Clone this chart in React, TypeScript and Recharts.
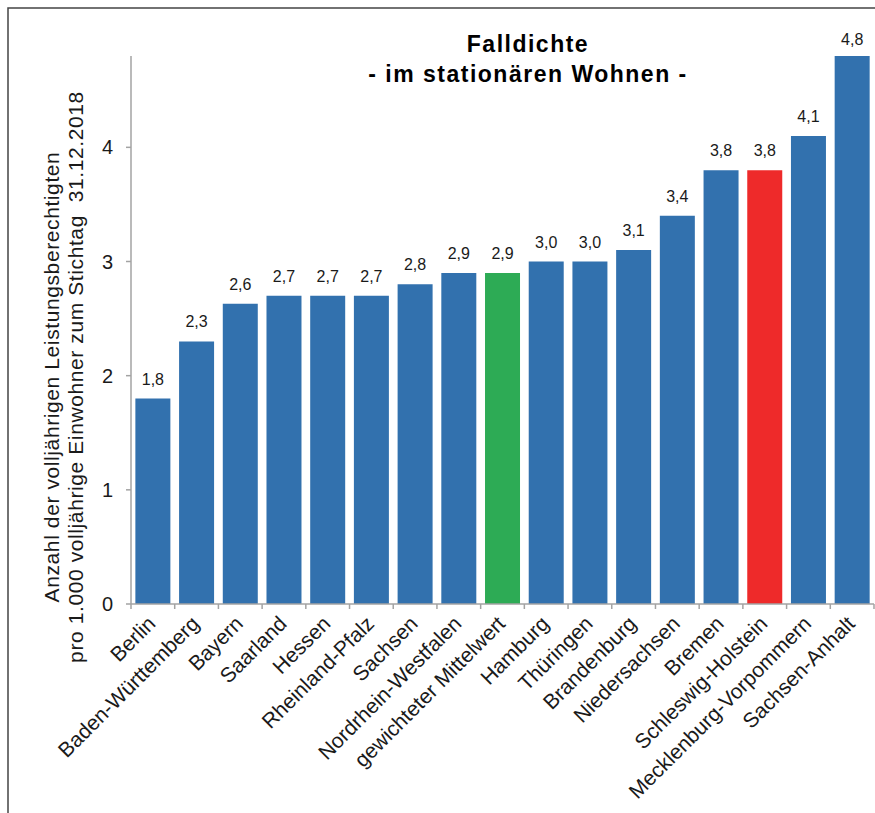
import { Bar, BarChart, Cell, LabelList, XAxis, YAxis } from 'recharts'

const CATEGORIES = [
  'Berlin',
  'Baden-Württemberg',
  'Bayern',
  'Saarland',
  'Hessen',
  'Rheinland-Pfalz',
  'Sachsen',
  'Nordrhein-Westfalen',
  'gewichteter Mittelwert',
  'Hamburg',
  'Thüringen',
  'Brandenburg',
  'Niedersachsen',
  'Bremen',
  'Schleswig-Holstein',
  'Mecklenburg-Vorpommern',
  'Sachsen-Anhalt',
]

const VALUES = [
  1.8, 2.3, 2.63, 2.7, 2.7, 2.7, 2.8, 2.9, 2.9, 3.0, 3.0, 3.1, 3.4, 3.8, 3.8,
  4.1, 4.8,
]

const Y_TICKS = [0, 1, 2, 3, 4]
const Y_MAX = 4.8

const TITLE_LINES = ['Falldichte', '- im stationären Wohnen -']
const Y_LABEL_LINES = [
  'Anzahl der volljährigen Leistungsberechtigten',
  'pro 1.000 volljährige Einwohner zum Stichtag  31.12.2018',
]

const FONT = '"Liberation Sans", Arial, sans-serif'
const BAR_BLUE = '#3271ae'
const HIGHLIGHT: Record<string, string> = {
  'gewichteter Mittelwert': '#2dab55',
  'Schleswig-Holstein': '#ee2a2a',
}
const AXIS_GRAY = '#a3a3a3'
const TEXT = '#1a1a1a'

const WIDTH = 875
const HEIGHT = 813
const MARGIN = { top: 56, right: 1, left: 71, bottom: 9 }
const Y_AXIS_WIDTH = 60
const X_AXIS_HEIGHT = 200
const PLOT_LEFT = MARGIN.left + Y_AXIS_WIDTH
const PLOT_RIGHT = WIDTH - MARGIN.right
const PLOT_BOTTOM = HEIGHT - MARGIN.bottom - X_AXIS_HEIGHT
const HALF_BAND = (PLOT_RIGHT - PLOT_LEFT) / CATEGORIES.length / 2

const data = CATEGORIES.map((name, i) => ({ name, value: VALUES[i] }))

const formatValue = (v: number) => v.toFixed(1).replace('.', ',')

// category label, rotated; Excel-style tick marks sit between the categories
function CategoryTick(props: any) {
  const { x, y, payload, index } = props
  const half = payload?.offset || HALF_BAND
  const isLast = index === CATEGORIES.length - 1
  return (
    <g>
      <line
        x1={x - half}
        x2={x - half}
        y1={PLOT_BOTTOM}
        y2={PLOT_BOTTOM + 5}
        stroke={AXIS_GRAY}
        strokeWidth={1.5}
      />
      {isLast && (
        <line
          x1={x + half}
          x2={x + half}
          y1={PLOT_BOTTOM}
          y2={PLOT_BOTTOM + 5}
          stroke={AXIS_GRAY}
          strokeWidth={1.5}
        />
      )}
      <g transform={`translate(${x + 4},${y + 16})`}>
        <text
          x={0}
          y={0}
          textAnchor='end'
          transform='rotate(-45)'
          fontSize={21}
          fontFamily={FONT}
          fill={TEXT}
        >
          {payload.value}
        </text>
      </g>
    </g>
  )
}

// value above each bar, kept inside the chart frame
function ValueLabel(props: any) {
  const { x, y, width, value } = props
  const ly = Math.max(y - 14, 45)
  return (
    <text
      x={x + width / 2}
      y={ly}
      textAnchor='middle'
      fontSize={16}
      fontFamily={FONT}
      fill={TEXT}
    >
      {formatValue(value)}
    </text>
  )
}

function YAxisTitle() {
  const cy = 377
  return (
    <g transform='rotate(-90)'>
      {Y_LABEL_LINES.map((line, i) => (
        <text
          key={line}
          x={-cy}
          y={59 + i * 24}
          textAnchor='middle'
          fontSize={21}
          letterSpacing={0.6}
          fontFamily={FONT}
          fill={TEXT}
          style={{ whiteSpace: 'pre' }}
        >
          {line}
        </text>
      ))}
    </g>
  )
}

export default function App() {
  return (
    <div
      style={{
        position: 'fixed',
        left: 0,
        top: 0,
        width: WIDTH,
        height: HEIGHT,
        background: '#fff',
        overflow: 'hidden',
      }}
    >
      <BarChart
        width={WIDTH}
        height={HEIGHT}
        data={data}
        margin={MARGIN}
        barCategoryGap='10%'
      >
        <XAxis
          dataKey='name'
          interval={0}
          height={X_AXIS_HEIGHT}
          tickLine={false}
          tickSize={5}
          tickMargin={0}
          axisLine={{ stroke: AXIS_GRAY, strokeWidth: 1.5 }}
          tick={<CategoryTick />}
        />
        <YAxis
          width={Y_AXIS_WIDTH}
          domain={[0, Y_MAX]}
          ticks={Y_TICKS}
          allowDataOverflow
          tickSize={5}
          tickMargin={13}
          tickLine={{ stroke: AXIS_GRAY, strokeWidth: 1.5 }}
          axisLine={{ stroke: AXIS_GRAY, strokeWidth: 1.5 }}
          tick={{ fill: TEXT, fontSize: 20, fontFamily: FONT }}
          label={{ content: () => <YAxisTitle /> }}
        />
        <Bar dataKey='value' isAnimationActive={false}>
          {data.map((d) => (
            <Cell key={d.name} fill={HIGHLIGHT[d.name] || BAR_BLUE} />
          ))}
          <LabelList dataKey='value' content={<ValueLabel />} />
        </Bar>
      </BarChart>
      <svg
        width={WIDTH}
        height={HEIGHT}
        style={{ position: 'absolute', left: 0, top: 0, pointerEvents: 'none' }}
      >
        <rect
          x={8}
          y={8}
          width={WIDTH + 20}
          height={HEIGHT + 20}
          fill='none'
          stroke='#444'
          strokeWidth={1.5}
        />
        {TITLE_LINES.map((line, i) => (
          <text
            key={line}
            x={528}
            y={52 + i * 30}
            textAnchor='middle'
            fontSize={23}
            letterSpacing={1.5}
            fontWeight='bold'
            fontFamily={FONT}
            fill='#000'
          >
            {line}
          </text>
        ))}
      </svg>
    </div>
  )
}
